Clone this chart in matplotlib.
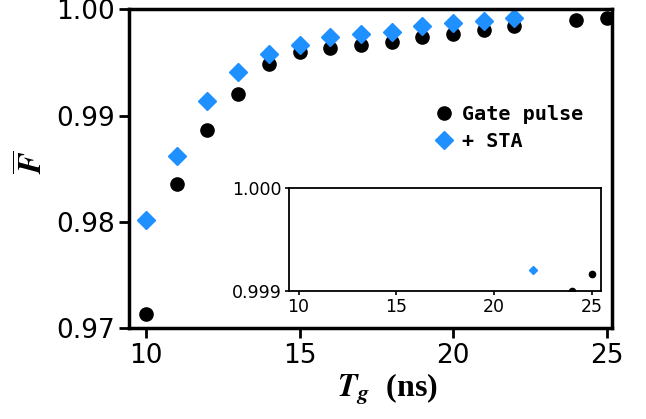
import matplotlib
matplotlib.use("Agg")
import matplotlib.pyplot as plt

plt.rcParams['mathtext.fontset'] = 'stix'

tg_gate = [10, 11, 12, 13, 14, 15, 16, 17, 18, 19, 20, 21, 22, 24, 25]
f_gate = [0.97135, 0.98359, 0.98863, 0.99198, 0.99480, 0.99593, 0.99637, 0.99668,
          0.99696, 0.99734, 0.99771, 0.99806, 0.99840, 0.99900, 0.99917]
tg_sta = [10, 11, 12, 13, 14, 15, 16, 17, 18, 19, 20, 21, 22]
f_sta = [0.98018, 0.98616, 0.99133, 0.99408, 0.99580, 0.99668, 0.99734, 0.99768,
         0.99787, 0.99840, 0.99875, 0.99887, 0.99921]

main_yticks = [0.97, 0.98, 0.99, 1.00]
main_xticks = [10, 15, 20, 25]
inset_yticks = [0.999, 1.000]

blue = '#1E90FF'

fig = plt.figure(figsize=(6.46, 4.19), dpi=100)
ax = fig.add_axes([0.2, 0.217, 0.747, 0.761])
ax.plot(tg_gate, f_gate, 'o', color='black', ms=9.5, label='Gate pulse', ls='none')
ax.plot(tg_sta, f_sta, 'D', color=blue, ms=9, label='+ STA', ls='none')
ax.set_xlim(9.45, 25.17)
ax.set_ylim(0.97, 1.00)
ax.set_xticks(main_xticks)
ax.set_yticks(main_yticks)
ax.set_yticklabels(['0.97', '0.98', '0.99', '1.00'])
ax.tick_params(labelsize=19, width=2, length=7)
for s in ax.spines.values():
    s.set_linewidth(2.5)
ax.set_xlabel(r'$\mathbfit{T_g}$  (ns)', fontsize=23, fontweight='bold',
              family='Liberation Serif', labelpad=2)
ax.xaxis.label.set_x(0.535)
ax.set_ylabel(r'$\overline{\mathbfit{F}}$', fontsize=23, labelpad=4)
ax.yaxis.label.set_y(0.52)
leg = ax.legend(loc='upper left', bbox_to_anchor=(0.59, 0.757), frameon=False,
                prop={'family': 'DejaVu Sans Mono', 'weight': 'bold', 'size': 14.5},
                handletextpad=0.3, labelspacing=0.4, handlelength=1.2)

ins = fig.add_axes([0.447, 0.305, 0.483, 0.246])
ins.plot(tg_gate, f_gate, 'o', color='black', ms=4.5, ls='none')
ins.plot(tg_sta, f_sta, 'D', color=blue, ms=4.5, ls='none')
ins.set_xlim(9.5, 25.45)
ins.set_ylim(0.999, 1.000)
ins.set_xticks(main_xticks)
ins.set_yticks(inset_yticks)
ins.set_yticklabels(['0.999', '1.000'])
ins.tick_params(labelsize=12.5, width=1.2, length=3, pad=2)
for s in ins.spines.values():
    s.set_linewidth(1.3)

fig.savefig('out.png', dpi=100)
